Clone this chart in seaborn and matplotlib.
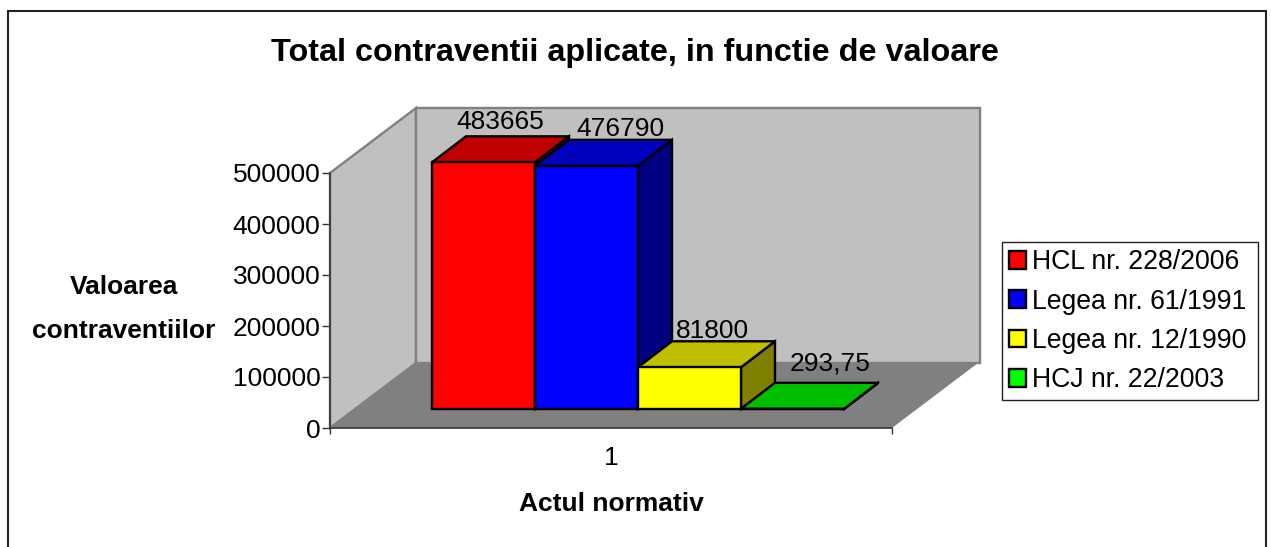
import matplotlib

matplotlib.use("Agg")

import matplotlib.pyplot as plt
import pandas as pd
import seaborn as sns
from matplotlib.patches import Polygon, Rectangle

FIG_W, FIG_H = 1271, 547

SERIES = ["HCL nr. 228/2006", "Legea nr. 61/1991", "Legea nr. 12/1990", "HCJ nr. 22/2003"]
VALUES = [483665, 476790, 81800, 293.75]
VALUE_LABELS = ["483665", "476790", "81800", "293,75"]
CATEGORY = ["1", "1", "1", "1"]
FRONT_COLORS = ["#ff0000", "#0000ff", "#ffff00", "#00ff00"]
TOP_COLORS = ["#bf0000", "#0000bf", "#bfbf00", "#00bf00"]
SIDE_COLORS = ["#800000", "#000080", "#808000", "#008000"]
Y_TICKS = [0, 100000, 200000, 300000, 400000, 500000]

TITLE = "Total contraventii aplicate, in functie de valoare"
X_LABEL = "Actul normativ"
Y_LABEL = "Valoarea\ncontraventiilor"


def fx(x):
    return x / FIG_W


def fy(y):
    return 1 - y / FIG_H


def add_axes_px(fig, left, top, right, bottom):
    return fig.add_axes([fx(left), fy(bottom), (right - left) / FIG_W, (bottom - top) / FIG_H])


def draw_walls(ax):
    dx = 86 / 562
    dy = 65 / 255 * 500000
    right = 0.5 + 88 / 562
    top = 500000
    wall = dict(facecolor="#c0c0c0", edgecolor="#808080", linewidth=1.7, clip_on=False, joinstyle="miter")
    ax.add_patch(Polygon(
        [(-0.5, 0), (-0.5 + dx, dy), (-0.5 + dx, top + dy), (-0.5, top)], **wall
    ))
    ax.add_patch(Polygon(
        [(-0.5 + dx, dy), (right, dy), (right, top + dy), (-0.5 + dx, top + dy)], **wall
    ))
    ax.add_patch(Polygon(
        [(-0.5, 0), (0.5, 0), (0.5 + dx, dy), (-0.5 + dx, dy)],
        facecolor="#808080", edgecolor="none", clip_on=False,
    ))


def draw_bar_faces(ax):
    # seaborn draws the front faces, the top and side come from the same rectangles
    dx = 34 / 562
    dy = 26 / 255 * 500000
    x_shifts = [0, 12, 4, 15]
    y_shifts = [2, -1, -1.5, 5]
    bars = [c[0] for c in ax.containers]
    for i, bar in enumerate(bars):
        x0 = bar.get_x()
        x1 = x0 + bar.get_width()
        h = bar.get_height()
        z = 3 + i * 3
        bar.set_zorder(z + 2)
        bar.set_clip_on(False)
        style = dict(edgecolor="black", linewidth=1.7, clip_on=False, joinstyle="miter")
        ax.add_patch(Polygon(
            [(x1, 0), (x1 + dx, dy), (x1 + dx, h + dy), (x1, h)],
            facecolor=SIDE_COLORS[i], zorder=z, **style,
        ))
        ax.add_patch(Polygon(
            [(x0, h), (x1, h), (x1 + dx, h + dy), (x0 + dx, h + dy)],
            facecolor=TOP_COLORS[i], zorder=z + 1, **style,
        ))
        ax.annotate(
            VALUE_LABELS[i], ((x0 + x1) / 2 + dx / 2, h + dy),
            xytext=(x_shifts[i], y_shifts[i]), textcoords="offset points",
            ha="center", va="bottom", fontsize=19, color="black", zorder=30,
            annotation_clip=False,
        )


def main():
    sns.set_style("white")
    plt.rcParams["font.family"] = ["Liberation Sans", "DejaVu Sans"]
    plt.rcParams["text.color"] = "black"
    plt.rcParams["xtick.labelcolor"] = "black"
    plt.rcParams["ytick.labelcolor"] = "black"

    data = pd.DataFrame({"act": CATEGORY, "serie": SERIES, "valoare": VALUES})

    fig = plt.figure(figsize=(FIG_W / 100, FIG_H / 100), dpi=100)
    fig.patch.set_facecolor("white")
    # the frame runs past the bottom of the picture
    fig.add_artist(Rectangle(
        (fx(7.5), fy(555)), (1266 - 7.5) / FIG_W, (555 - 11) / FIG_H,
        transform=fig.transFigure, facecolor="white", edgecolor="#222222", linewidth=1.5, zorder=-1,
    ))

    ax = add_axes_px(fig, 330, 173, 892, 428)
    ax.patch.set_alpha(0)
    ax.set_xlim(-0.5, 0.5)
    ax.set_ylim(0, 500000)
    draw_walls(ax)
    ax.set_yticks(Y_TICKS)
    ax.set_yticklabels([str(t) for t in Y_TICKS])
    ax.set_xticks([-0.5, 0.5])
    ax.set_xticklabels(["", ""])
    ax.set_xticks([0], ["1"], minor=True)
    ax.tick_params(axis="y", left=True, length=5.8, width=1, color="#333333", labelsize=19, pad=1)
    ax.tick_params(axis="x", which="major", bottom=True, length=4.5, width=1, color="#333333")
    ax.tick_params(axis="x", which="minor", bottom=False, length=0, labelsize=19, pad=13)
    sns.despine(ax=ax)
    for side in ["left", "bottom"]:
        ax.spines[side].set_color("#333333")
        ax.spines[side].set_linewidth(1.2)
        ax.spines[side].set_zorder(10)

    ax_bars = add_axes_px(fig, 357, 154, 919, 409)
    ax_bars.patch.set_alpha(0)
    sns.barplot(
        data=data,
        x="act",
        y="valoare",
        hue="serie",
        hue_order=SERIES,
        palette=FRONT_COLORS,
        saturation=1,
        width=412 / 562,
        gap=0,
        edgecolor="black",
        linewidth=1.7,
        errorbar=None,
        legend=True,
        ax=ax_bars,
    )
    ax_bars.set_xlim(-0.5, 0.5)
    ax_bars.set_ylim(0, 500000)
    draw_bar_faces(ax_bars)
    handles, labels = ax_bars.get_legend_handles_labels()
    ax_bars.get_legend().remove()
    ax_bars.set_axis_off()

    legend = fig.legend(
        handles, labels,
        loc="upper left",
        bbox_to_anchor=(fx(1002), fy(399), 256 / FIG_W, 157 / FIG_H),
        bbox_transform=fig.transFigure,
        mode="expand",
        fontsize=19.2,
        fancybox=False,
        framealpha=1,
        edgecolor="#222222",
        handlelength=0.64,
        handleheight=0.64,
        handletextpad=0.22,
        labelspacing=0.5,
        borderpad=0.27,
        borderaxespad=0,
    )
    legend.get_frame().set_linewidth(1)

    fig.text(fx(635), fy(53), TITLE, fontsize=23.3, fontweight="bold", ha="center", va="center")
    fig.text(fx(611), fy(504), X_LABEL, fontsize=19, fontweight="bold", ha="center", va="center")
    fig.text(fx(124), fy(309), Y_LABEL, fontsize=19, fontweight="bold", ha="center", va="center", linespacing=2.1)

    fig.savefig("out.png", dpi=100)
    plt.close(fig)


if __name__ == "__main__":
    main()
